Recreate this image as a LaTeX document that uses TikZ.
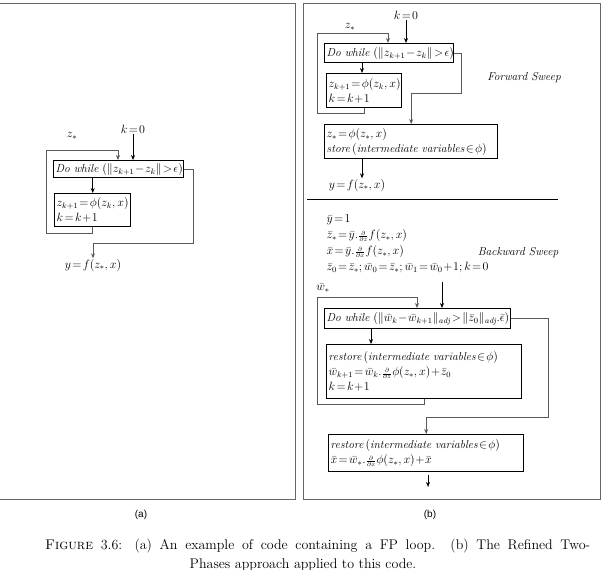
\documentclass[tikz,border=0pt]{standalone}
\usepackage{fontspec}
\usepackage{amsmath}
\newfontfamily\labfont{Liberation Sans}
\usetikzlibrary{arrows.meta}
\newcommand\dowh{\textit{Do while}\ }
\newcommand\pd[1]{{\scriptstyle\frac{\partial}{\partial #1}}}
\newcommand\txtfont{\fontsize{11.5}{15}\selectfont\thickmuskip=2mu\medmuskip=1mu}
\newcommand\bsfont{\fontsize{11.5}{16}\selectfont\thickmuskip=2mu\medmuskip=1mu}
\begin{document}
\begin{tikzpicture}[x=1pt,y=-1pt,
  box/.style={draw=black,line width=1.4pt,anchor=north west,align=left,inner xsep=2pt,inner ysep=1pt,font=\txtfont},
  lbl/.style={inner sep=0.5pt,font=\txtfont},
  conn/.style={draw=black!65,line width=0.9pt},
  arr/.style={-{Stealth[length=5pt,width=4pt]},draw=black,line width=0.7pt},
  carr/.style={conn,-{Stealth[length=5pt,width=4pt]}},
  frame/.style={draw=black!60,line width=0.9pt}]
\useasboundingbox (0,0) rectangle (605,570);
% panel frames
\draw[frame] (-2,3.5) -- (295,3.5) -- (295,499.5) -- (-2,499.5);
\draw[frame] (303,3.5) rectangle (600,499.5);
\node[font=\labfont\fontsize{10}{12}\selectfont] (la) at (141,515) {(a)};
\node[font=\labfont\fontsize{10}{12}\selectfont] (lb) at (430,515) {(b)};
\node[anchor=base west,inner sep=0pt,font=\fontsize{14}{16}\selectfont] (cap1) at (45,549) {\makebox[545pt][s]{\textsc{Figure} 3.6: (a) An example of code containing a FP loop. (b) The Refined Two-}};
\node[anchor=base,inner sep=0pt,font=\fontsize{14}{16}\selectfont] (cap2) at (303,568) {Phases approach applied to this code.};

% ---------- panel (a)
\node[lbl] (k0a) at (133,129) {$k=0$};
\node[lbl] (za) at (72,136) {$z_*$};
\node[box,text width=126pt,minimum height=17pt] (dwa) at (53,160) {\mbox{\dowh$(\|z_{k+1}-z_k\|>\epsilon)$}};
\node[box,text width=72pt,minimum height=33pt] (b2a) at (54,193) {\mbox{$z_{k+1}=\phi(z_k,x)$}\\$k=k+1$};
\node[lbl] (ya) at (93,265) {$y=f(z_*,x)$};
\draw[arr] (k0a.south) -- (k0a.south |- dwa.north);
\draw[arr] (b2a.north |- dwa.south) -- (b2a.north);
\draw[carr] (b2a.south) |- (46,233) |- (118,150) -- (118,0 |- dwa.north);
\draw[carr] (dwa.east) -| (193,243) -| (ya.north);

% ---------- panel (b) forward
\node[lbl] (k0b) at (406,15) {$k=0$};
\node[lbl] (zb) at (350,27) {$z_*$};
\node[box,text width=125pt,minimum height=19pt] (dwb) at (324,43) {\mbox{\dowh$(\|z_{k+1}-z_k\|>\epsilon)$}};
\node[box,text width=71pt,minimum height=34pt] (b2b) at (326,73) {\mbox{$z_{k+1}=\phi(z_k,x)$}\\$k=k+1$};
\node[box,text width=169pt,minimum height=34pt] (b3b) at (324,124) {$z_*=\phi(z_*,x)$\\\mbox{\textit{store}$\,(\textit{intermediate variables}\in\phi)$}};
\node[lbl] (yb) at (357,185) {$y=f(z_*,x)$};
\node[lbl,font=\txtfont\itshape] (fs) at (524,78) {Forward Sweep};
\draw[arr] (k0b.south) -- (k0b.south |- dwb.north);
\draw[arr] (362,0 |- dwb.south) -- (362,0 |- b2b.north);
\draw[carr] (b2b.south) |- (317,113) |- (388,33) -- (388,0 |- dwb.north);
\draw[carr] (dwb.east) -| (461,93) -| (b3b.north);
\draw[arr] (362,0 |- b3b.south) -- (362,0 |- yb.north);
\coordinate (sepl) at (307,199);
\coordinate (sepr) at (558,199);
\draw[line width=0.9pt] (sepl) -- (sepr);

% ---------- panel (b) backward
\node[lbl,anchor=north west,align=left,font=\bsfont] (bsblock) at (326,214)
  {$\bar y=1$\\
   $\bar z_*=\bar y.\pd{z}f(z_*,x)$\\
   $\bar x=\bar y.\pd{x}f(z_*,x)$\\
   $\bar z_0=\bar z_*;\bar w_0=\bar z_*;\bar w_1=\bar w_0+1;k=0$};
\node[lbl,font=\txtfont\itshape] (bs) at (518,253) {Backward Sweep};
\node[lbl] (wb) at (323,288) {$\bar w_*$};
\node[box,text width=182pt,minimum height=20pt] (dwc) at (324,308) {\mbox{\dowh$(\|\bar w_k-\bar w_{k+1}\|_{\mathit{adj}}>\|\bar z_0\|_{\mathit{adj}}.\bar\epsilon)$}};
\node[box,text width=191pt,minimum height=54pt] (b2c) at (326,344) {\mbox{\textit{restore}$\,(\textit{intermediate variables}\in\phi)$}\\$\bar w_{k+1}=\bar w_k.\pd{z}\phi(z_*,x)+\bar z_0$\\$k=k+1$};
\node[box,text width=191pt,minimum height=37pt] (b3c) at (328,434) {\mbox{\textit{restore}$\,(\textit{intermediate variables}\in\phi)$}\\$\bar x=\bar w_*.\pd{x}\phi(z_*,x)+\bar x$};
\coordinate (endc) at (428,487);
\draw[arr] (442,282) -- (442,0 |- dwc.north);
\draw[arr] (371,0 |- dwc.south) -- (371,0 |- b2c.north);
\draw[carr] (424,0 |- b2c.south) |- (317,404) |- (417,297) -- (417,0 |- dwc.north);
\draw[carr] (dwc.east) -| (548,417) -| (b3c.north);
\draw[arr] (428,475) -- (endc);
\end{tikzpicture}
\end{document}
